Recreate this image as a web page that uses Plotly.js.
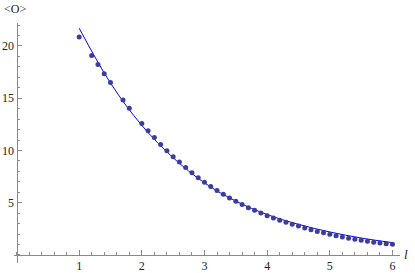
<!DOCTYPE html>
<html>
<head>
<meta charset="utf-8">
<script src="https://cdn.plot.ly/plotly-3.0.1.min.js"></script>
<style>html,body{margin:0;padding:0;background:#fff;}#chart{width:415px;height:273px;}</style>
</head>
<body>
<div id="chart"></div>
<script>
var pointsX = [1.0,1.2,1.3,1.4,1.5,1.7,1.8,2.0,2.1,2.2,2.3,2.4,2.5,2.6,2.7,2.8,2.9,3.0,3.1,3.2,3.3,3.4,3.5,3.6,3.7,3.8,3.9,4.0,4.1,4.2,4.3,4.4,4.5,4.6,4.7,4.8,4.9,5.0,5.1,5.2,5.3,5.4,5.5,5.6,5.7,5.8,5.9,6.0];
var pointsY = [20.85,19.1,18.22,17.35,16.5,14.82,14.05,12.58,11.88,11.23,10.58,9.97,9.41,8.89,8.36,7.86,7.40,6.97,6.55,6.16,5.81,5.46,5.14,4.82,4.52,4.27,4.02,3.76,3.53,3.33,3.14,2.94,2.76,2.59,2.41,2.25,2.12,1.99,1.84,1.72,1.60,1.50,1.41,1.31,1.22,1.15,1.08,1.03];
var curveX = [1.0,1.5,2.0,2.5,3.0,3.5,4.0,4.5,5.0,5.5,6.0];
var curveY = [21.7,16.45,12.4,9.3,6.9,5.15,3.87,2.93,2.2,1.62,1.18];
var xTicks = [1,2,3,4,5,6];
var yTicks = [5,10,15,20];

var xr = [-0.04, 6.12], yr = [-0.77, 22.2];
var axisColor = '#8a8a8a';
var serif = 'Liberation Serif, Times New Roman, serif';
var tickFont = {family: serif, size: 12, color: '#222'};

var traces = [
  {x: curveX, y: curveY, mode: 'lines', type: 'scatter',
   line: {color: '#0000ff', width: 1, shape: 'spline', smoothing: 1}, hoverinfo: 'none'},
  {x: pointsX, y: pointsY, mode: 'markers', type: 'scatter',
   marker: {color: '#3d3d99', size: 5}, hoverinfo: 'none'}
];

var layout = {
  width: 415, height: 273,
  margin: {l: 14, r: 15, t: 23, b: 10, pad: 0},
  paper_bgcolor: '#fff', plot_bgcolor: '#fff',
  font: {family: serif},
  showlegend: false,
  xaxis: {range: xr, anchor: 'free', position: (0 - yr[0]) / (yr[1] - yr[0]),
    showgrid: false, zeroline: false, showline: true, linecolor: axisColor, linewidth: 1,
    tickmode: 'array', tickvals: xTicks, ticktext: xTicks.map(String),
    ticks: 'inside', ticklen: 4.5, tickwidth: 1, tickcolor: axisColor,
    minor: {dtick: 0.2, tick0: 0, ticks: 'inside', ticklen: 2.5, tickcolor: axisColor, tickwidth: 1, showgrid: false},
    tickfont: tickFont, automargin: false, fixedrange: true},
  yaxis: {range: yr, anchor: 'free', position: (0 - xr[0]) / (xr[1] - xr[0]),
    showgrid: false, zeroline: false, showline: true, linecolor: axisColor, linewidth: 1,
    tickmode: 'array', tickvals: yTicks, ticktext: yTicks.map(String),
    ticks: 'inside', ticklen: 4.5, tickwidth: 1, tickcolor: axisColor,
    minor: {dtick: 1, tick0: 0, ticks: 'inside', ticklen: 2.5, tickcolor: axisColor, tickwidth: 1, showgrid: false},
    tickfont: tickFont, automargin: false, fixedrange: true},
  annotations: [
    {text: '&lt;O&gt;', xref: 'paper', yref: 'paper', x: 0.003, y: 1.06, xanchor: 'center', yanchor: 'middle',
     showarrow: false, font: {family: serif, size: 12, color: '#222'}},
    {text: '<i>l</i>', xref: 'paper', yref: 'paper', x: 1.016, y: 0.035, xanchor: 'center', yanchor: 'middle',
     showarrow: false, font: {family: serif, size: 13, color: '#222'}}
  ]
};

Plotly.newPlot('chart', traces, layout, {staticPlot: true, displayModeBar: false});
</script>
</body>
</html>
